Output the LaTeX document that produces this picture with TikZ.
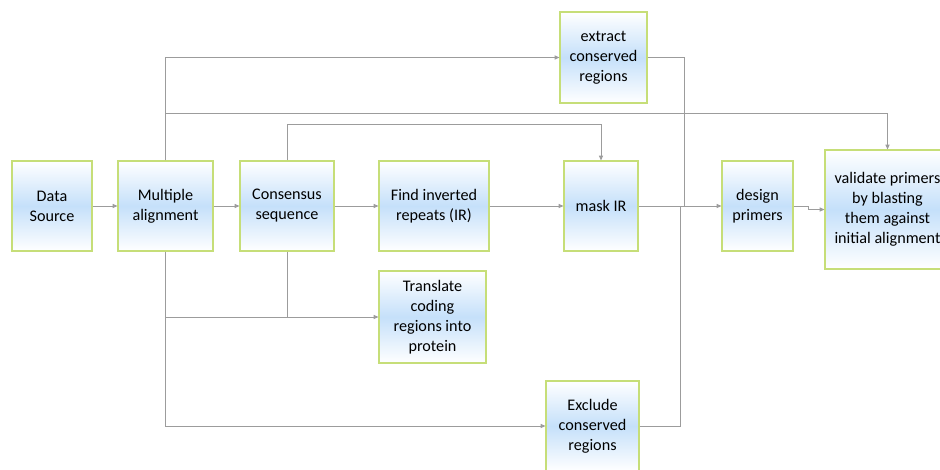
\documentclass[tikz,border=0pt]{standalone}
\usepackage{fontspec}
\setmainfont{Carlito}
\usetikzlibrary{arrows.meta}
\definecolor{boxline}{HTML}{C6DE78}
\definecolor{boxblue}{HTML}{C5E0FA}
\definecolor{wire}{HTML}{9C9C9C}

\begin{document}
\begin{tikzpicture}[x=0.3mm,y=-0.3mm,>={Triangle[length=4pt,width=3.5pt]},
    box/.style={draw=boxline,line width=1pt,top color=white,bottom color=white,middle color=boxblue,
      align=center,inner sep=0pt,minimum height=27mm,font=\fontsize{13.8}{17}\selectfont},
    wire/.style={draw=wire,line width=0.8pt}]
        \useasboundingbox (0,0) rectangle (940,469);
        % main row
        \node[box,minimum width=24mm] (src) at (52,206) {Data\\Source};
        \node[box,minimum width=28.5mm] (ma) at (165.5,206) {Multiple\\alignment};
        \node[box,minimum width=28.2mm] (cons) at (287,206) {Consensus\\sequence};
        \node[box,minimum width=33mm] (fir) at (434,206) {Find inverted\\repeats (IR)};
        \node[box,minimum width=22.2mm] (mask) at (601,206) {mask IR};
        \node[box,minimum width=21.3mm] (dp) at (757.5,206) {design\\primers};
        \node[box,minimum width=37.5mm,minimum height=35.7mm] (val) at (887.5,209.5) {validate primers\\by blasting\\them against\\initial alignment};
        % side boxes
        \node[box,minimum width=26.1mm,minimum height=27.3mm] (ext) at (603.5,57.5) {extract\\conserved\\regions};
        \node[box,minimum width=32.1mm,minimum height=27.6mm] (tr) at (432.5,317) {Translate\\coding\\regions into\\protein};
        \node[box,minimum width=27.9mm] (exc) at (592.5,426) {Exclude\\conserved\\regions};
        \coordinate (top) at (165.5,113);
        \coordinate (j1) at (684,206);
        \coordinate (j2) at (680,206);
        % connectors
        \draw[wire,->] (src) -- (ma);
        \draw[wire,->] (ma) -- (cons);
        \draw[wire,->] (cons) -- (fir);
        \draw[wire,->] (fir) -- (mask);
        \draw[wire,->] (mask) -- (dp);
        \draw[wire,->] (dp.east) -- ++(15,0) |- (val.west);
        \draw[wire,->] (ma.north) |- (ext.west);
        \draw[wire,->] (ma.north) -- (top) -| (val.north);
        \draw[wire,->] (cons.north) -- ++(0,-36) -| (mask.north);
        \draw[wire,->] (ma.south) |- (tr.west);
        \draw[wire,->] (ma.south) |- (exc.west);
        \draw[wire] (cons.south) -- (cons.south |- tr.west);
        \draw[wire] (ext.east) -| (j1);
        \draw[wire] (exc.east) -| (j2);
\end{tikzpicture}
\end{document}
